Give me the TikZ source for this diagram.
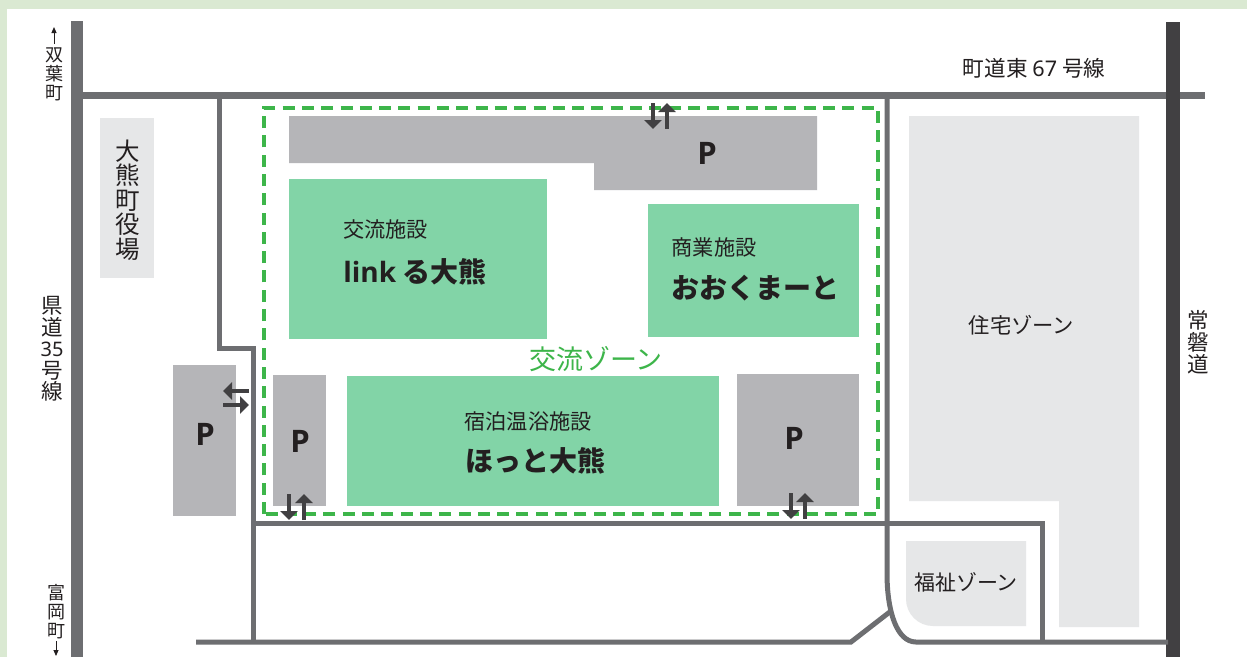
\documentclass[tikz,border=0pt]{standalone}
\usepackage{fontspec}
\usetikzlibrary{arrows.meta}
\setmainfont{Noto Sans CJK JP}
\newfontfamily\lat{Noto Sans}
\newfontfamily\latb{Open Sans}
\definecolor{roadg}{HTML}{6D6E71}
\definecolor{roadd}{HTML}{414042}
\definecolor{parkg}{HTML}{B5B5B8}
\definecolor{zoneg}{HTML}{E6E7E8}
\definecolor{bldg}{HTML}{82D4A7}
\definecolor{edgeg}{HTML}{DAE9D2}
\definecolor{dashg}{HTML}{3DB54A}
\definecolor{inkk}{HTML}{231F20}
\newcommand{\tnode}[4]{\node[lbl,font=\fontsize{#3}{#3}\selectfont] (#1) at #2 {#4};}
\newcommand{\pmark}[3]{\node[lbl,font=\fontsize{#2}{#2}\selectfont\latb\bfseries] (#3) at #1 {P};}
\tikzset{
  x=1pt,y=-1pt,
  lbl/.style={inner sep=0pt,outer sep=0pt,text=inkk,align=center},
  vert/.style={lbl,align=center},
  road/.style={draw=roadg,line width=5pt,line join=miter},
  flow/.style={draw=roadd,line width=4.6pt,-{Triangle[length=9pt,width=17pt]}},
  thin flow/.style={draw=inkk,line width=1pt,-{Triangle[length=6pt,width=5pt]}},
  parkarea/.style={fill=parkg,draw=none},
  zonearea/.style={fill=zoneg,draw=none},
  bldarea/.style={fill=bldg,draw=none},
}
\begin{document}
\begin{tikzpicture}
\useasboundingbox (0,0) rectangle (1247,657);
% frame
\fill[edgeg] (0,0) rectangle (1247,657);
\fill[white] (7,9) rectangle (1247,657);
% light zones
\fill[zonearea] (100,118) rectangle (154,278);
\fill[zonearea] (909,116) -- (1139,116) -- (1139,627) -- (1059,627) -- (1059,501) -- (909,501) -- cycle;
\fill[zonearea] (906,541) -- (1026,541) -- (1026,626) -- (933,626) arc[start angle=90,end angle=180,radius=27] -- cycle;
% parking
\fill[parkarea] (289,116) -- (817,116) -- (817,190) -- (594,190) -- (594,163) -- (289,163) -- cycle;
\fill[parkarea] (173,365) rectangle (236,516);
\fill[parkarea] (273,375) rectangle (326,506);
\fill[parkarea] (737,374) rectangle (859,506);
% buildings
\fill[bldarea] (289,179) rectangle (547,339);
\fill[bldarea] (648,204) rectangle (859,337);
\fill[bldarea] (347,376) rectangle (719,506);
% roads
\fill[roadg] (71,21) rectangle (83,657);
\fill[roadg] (83,92) rectangle (1205,99);
\fill[roadd] (1166,22) rectangle (1180,657);
\draw[road] (219.5,97) -- (219.5,348) -- (253.5,348) -- (253.5,642);
\draw[road] (196,642) -- (851,642) -- (891,611);
\draw[road] (253.5,523) -- (1042,523) -- (1042,642);
\draw[road] (887,97) -- (887,573) .. controls (887,612) and (897,642) .. (916,642) -- (1168,642);
% exchange zone
\draw[dashg,line width=3.6pt,dash pattern=on 12pt off 7.3pt] (264,514) -- (264,108) -- (878,108) -- (878,514) -- cycle;
% arrows
\draw[flow] (653,103) -- (653,129);
\draw[flow] (667,129) -- (667,103);
\draw[flow] (249,391) -- (223,391);
\draw[flow] (223,405) -- (249,405);
\draw[flow] (289,494) -- (289,520);
\draw[flow] (304,520) -- (304,494);
\draw[flow] (791,493) -- (791,519);
\draw[flow] (805,519) -- (805,493);
\draw[thin flow] (54,44) -- (54,27);
\draw[thin flow] (56,641) -- (56,656);
% labels
\tnode{tRoad}{(1034,68)}{21.6}{町道東 {\lat 67} 号線}
\node[vert,font=\fontsize{18}{19}\selectfont] (tFutaba) at (54,74) {双\\葉\\町};
\node[vert,font=\fontsize{18}{19}\selectfont] (tTomioka) at (56,612) {富\\岡\\町};
\node[vert,font=\fontsize{21.5}{21.5}\selectfont] (tKen) at (52,349) {県\\道\\{\lat\fontsize{20}{20}\selectfont 35}\\号\\線};
\node[vert,font=\fontsize{21.5}{22}\selectfont] (tJoban) at (1198,342) {常\\磐\\道};
\node[vert,font=\fontsize{24.5}{24.5}\selectfont] (tOffice) at (127.5,200) {大\\熊\\町\\役\\場};
\tnode{tK1}{(385.5,229.5)}{21.2}{交流施設}
\node[lbl,font=\fontsize{28}{28}\selectfont\bfseries] (tLink) at (415,272) {{\latb link} る大熊};
\tnode{tS1}{(714,247)}{21.2}{商業施設}
\node[lbl,font=\fontsize{28}{28}\selectfont\bfseries] (tOkuma) at (755.5,288) {おおくまーと};
\tnode{tH1}{(528,421)}{21.2}{宿泊温浴施設}
\node[lbl,font=\fontsize{28}{28}\selectfont\bfseries] (tHot) at (535.5,461) {ほっと大熊};
\node[lbl,text=dashg,font=\fontsize{27}{27}\selectfont] (tZone) at (596,359) {交流ゾーン};
\tnode{tHouse}{(1021.5,325)}{21.3}{住宅ゾーン}
\tnode{tWelfare}{(966,582)}{21}{福祉ゾーン}
\pmark{(707,153)}{31}{pA}
\pmark{(205,434)}{31}{pB}
\pmark{(300,441)}{31}{pC}
\pmark{(794,438)}{31}{pD}
\end{tikzpicture}
\end{document}
